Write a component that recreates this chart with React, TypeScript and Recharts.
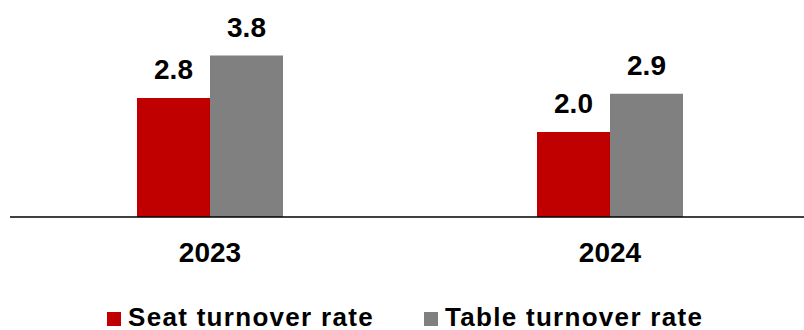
import { Bar, BarChart, LabelList, Legend, XAxis, YAxis } from "recharts";

const YEARS = ["2023", "2024"];
const SEAT_TURNOVER = [2.8, 2.0];
const TABLE_TURNOVER = [3.8, 2.9];

const SERIES = [
  { key: "seat", name: "Seat turnover rate", color: "#C00000" },
  { key: "table", name: "Table turnover rate", color: "#808080" },
];

const data = YEARS.map((year, i) => ({
  year,
  seat: SEAT_TURNOVER[i],
  table: TABLE_TURNOVER[i],
}));

const FONT = "'Liberation Sans', Arial, sans-serif";

function TurnoverLegend() {
  return (
    <div
      style={{
        display: "flex",
        justifyContent: "flex-start",
        alignItems: "center",
        height: 30,
        paddingLeft: 107,
        fontFamily: FONT,
        fontWeight: 700,
        fontSize: 26,
        letterSpacing: 1.3,
        color: "#000",
      }}
    >
      {SERIES.map((s, i) => (
        <div
          key={s.key}
          style={{ display: "flex", alignItems: "center", marginRight: i === 0 ? 50 : 0 }}
        >
          <span
            style={{
              display: "inline-block",
              width: 14,
              height: 14,
              background: s.color,
              marginRight: 7,
              marginTop: 3,
            }}
          />
          <span>{s.name}</span>
        </div>
      ))}
    </div>
  );
}

export default function App() {
  return (
    <div
      style={{
        position: "absolute",
        left: 0,
        top: 0,
        width: 804,
        height: 330,
        overflow: "hidden",
        background: "#fff",
      }}
    >
      <BarChart
        width={810}
        height={330}
        data={data}
        margin={{ top: 4.5, right: 0, left: 10, bottom: 0 }}
        barCategoryGap="31.75%"
        barGap={0}
      >
        <XAxis
          dataKey="year"
          axisLine={{ stroke: "#000", strokeWidth: 1.5 }}
          tickLine={false}
          tickMargin={19}
          height={83}
          tick={{ fill: "#000", fontSize: 28, fontWeight: 700, fontFamily: FONT }}
        />
        <YAxis hide domain={[0, 5]} />
        <Legend
          verticalAlign="bottom"
          content={() => <TurnoverLegend />}
          wrapperStyle={{ left: 0, bottom: -2, width: 804, height: 30 }}
        />
        {SERIES.map((s) => (
          <Bar
            key={s.key}
            dataKey={s.key}
            name={s.name}
            fill={s.color}
            isAnimationActive={false}
          >
            <LabelList
              dataKey={s.key}
              position="top"
              offset={19}
              formatter={(v: number) => v.toFixed(1)}
              style={{ fill: "#000", fontSize: 28, fontWeight: 700, fontFamily: FONT }}
            />
          </Bar>
        ))}
      </BarChart>
    </div>
  );
}
